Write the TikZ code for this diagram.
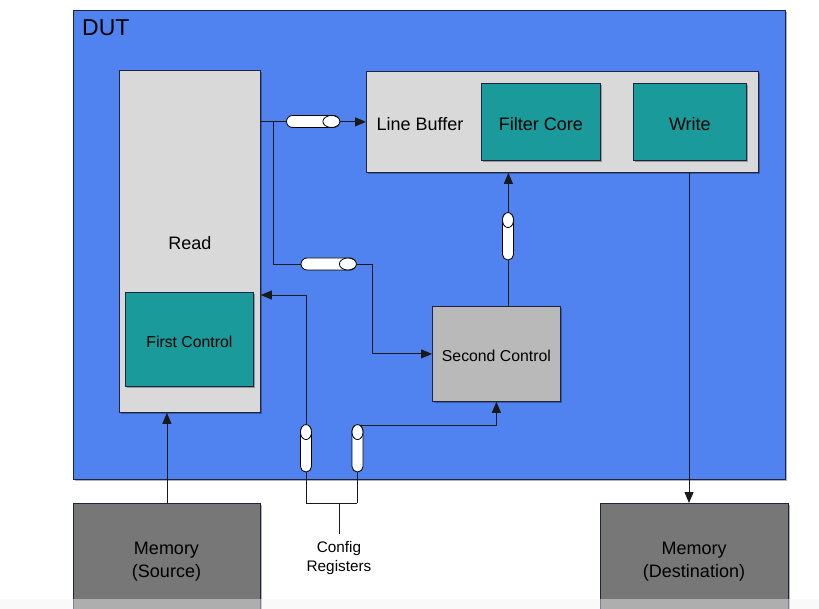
\documentclass[tikz,border=0pt]{standalone}
\usepackage{fontspec}
\setmainfont{Liberation Sans}
\usetikzlibrary{arrows.meta,shadows,calc}

\definecolor{dutblue}{HTML}{5083EF}
\definecolor{boxgray}{HTML}{D9D9D9}
\definecolor{ctrlgray}{HTML}{B9B9B9}
\definecolor{memgray}{HTML}{777777}
\definecolor{tealbox}{HTML}{1A9A9A}
\definecolor{edge}{HTML}{1E2440}

\tikzset{
  shade/.style={drop shadow={shadow xshift=1.6pt, shadow yshift=-1.6pt, opacity=0.3, fill=black}},
  blockbox/.style={draw=edge, line width=0.8pt, anchor=north west, inner sep=0pt, shade},
  boxtext/.style={inner sep=0pt, font=\fontsize{18}{23}\selectfont, align=center, text=black},
  smalltext/.style={inner sep=0pt, font=\fontsize{15.8}{19}\selectfont, align=center, text=black},
  link/.style={draw=black!90, line width=0.8pt},
  arr/.style={link, -{Triangle[length=11pt,width=9pt]}},
  pipeH/.style={draw=black, line width=0.8pt, fill=white, rounded corners=6pt,
    minimum height=12pt, inner sep=0pt, drop shadow={shadow xshift=1pt, shadow yshift=-1pt, opacity=0.25}},
  pipeV/.style={draw=black, line width=0.8pt, fill=white, rounded corners=5.5pt,
    minimum width=11pt, inner sep=0pt, drop shadow={shadow xshift=1pt, shadow yshift=-1pt, opacity=0.25}},
  capend/.style={draw=black, line width=0.8pt, fill=white},
}

\begin{document}
\begin{tikzpicture}[x=1pt,y=-1pt]
\useasboundingbox (0,0) rectangle (819,609);
\clip (0,0) rectangle (819,609);

% outer device block
\node[blockbox, fill=dutblue, minimum width=712pt, minimum height=469pt] (dut) at (73,10) {};
\node[inner sep=0pt, anchor=west, font=\fontsize{23}{26}\selectfont, text=black] (dutlabel) at (82,28) {DUT};

% read side
\node[blockbox, fill=boxgray, minimum width=141pt, minimum height=342pt] (read) at (119,70) {};
\node[boxtext] (readlabel) at (190,243) {Read};
\node[blockbox, fill=tealbox, minimum width=128pt, minimum height=94pt] (first) at (125,292) {};
\node[smalltext] at ([yshift=-2pt]first.center) {First Control};

% line buffer with its inner blocks
\node[blockbox, fill=boxgray, minimum width=392pt, minimum height=101pt] (lb) at (366,71) {};
\node[boxtext] (lblabel) at (420,124) {Line Buffer};
\node[blockbox, fill=tealbox, minimum width=119pt, minimum height=77pt] (filter) at (481,83) {};
\node[boxtext] at ([yshift=-2.5pt]filter.center) {Filter Core};
\node[blockbox, fill=tealbox, minimum width=113pt, minimum height=77pt] (write) at (633,83) {};
\node[boxtext] at ([yshift=-2.5pt]write.center) {Write};

% second control
\node[blockbox, fill=ctrlgray, minimum width=128pt, minimum height=95pt] (second) at (432,306) {};
\node[smalltext] at ([yshift=-2pt]second.center) {Second Control};

% memories
\node[blockbox, fill=memgray, minimum width=187pt, minimum height=130pt] (memsrc) at (73,503) {};
\node[boxtext] at (166.5,562) {Memory\\(Source)};
\node[blockbox, fill=memgray, minimum width=188pt, minimum height=130pt] (memdst) at (600,503) {};
\node[boxtext] at (694,562) {Memory\\(Destination)};

% config registers
\node[smalltext, font=\fontsize{15.3}{19}\selectfont] (cfg) at (339,558) {Config\\Registers};
\coordinate (cfgL) at (306,503);
\coordinate (cfgR) at (357,503);
\coordinate (cfgStem) at (339,503);
\coordinate (cfgStemEnd) at (339,534);

% connectors
\coordinate (split) at (273,121.5);
\coordinate (bend) at (372,264);
\draw[arr] (read.east |- lb.west) -- (lb.west);
\draw[arr] (split) |- (bend) |- (second.west);
\draw[arr] ([xshift=12pt]second.north) -- ([xshift=12pt]second.north |- lb.south);
\draw[arr] (cfgL) |- (read.east |- 0,295);
\draw[arr] (cfgR) -- (357,425) -| (second.south);
\draw[link] (cfgL) -- (cfgR);
\draw[link] (cfgStem) -- (cfgStemEnd);
\draw[arr] (memsrc.north) -- (memsrc.north |- read.south);
\draw[arr] (lb.south -| 689,0) -- (memdst.north -| 689,0);

% pipeline stages on the connectors
\node[pipeH, minimum width=53pt] (p1) at (313,121.5) {};
\draw[capend] ([xshift=-8.5pt]p1.east) ellipse [x radius=8.5pt, y radius=6pt];
\node[pipeH, minimum width=55pt] (p2) at (328.5,264) {};
\draw[capend] ([xshift=-8.5pt]p2.east) ellipse [x radius=8.5pt, y radius=6pt];
\node[pipeV, minimum height=47pt] (p3) at (508,236.5) {};
\draw[capend] ([yshift=-7.5pt]p3.north) ellipse [x radius=5.5pt, y radius=7.5pt];
\node[pipeV, minimum height=47pt] (p4) at (306,448.5) {};
\draw[capend] ([yshift=-7.5pt]p4.north) ellipse [x radius=5.5pt, y radius=7.5pt];
\node[pipeV, minimum height=47pt] (p5) at (357.5,448.5) {};
\draw[capend] ([yshift=-7.5pt]p5.north) ellipse [x radius=5.5pt, y radius=7.5pt];

% faint strip along the lower edge
\fill[black!5, opacity=0.45] (0,599) rectangle (819,609);
\end{tikzpicture}
\end{document}
